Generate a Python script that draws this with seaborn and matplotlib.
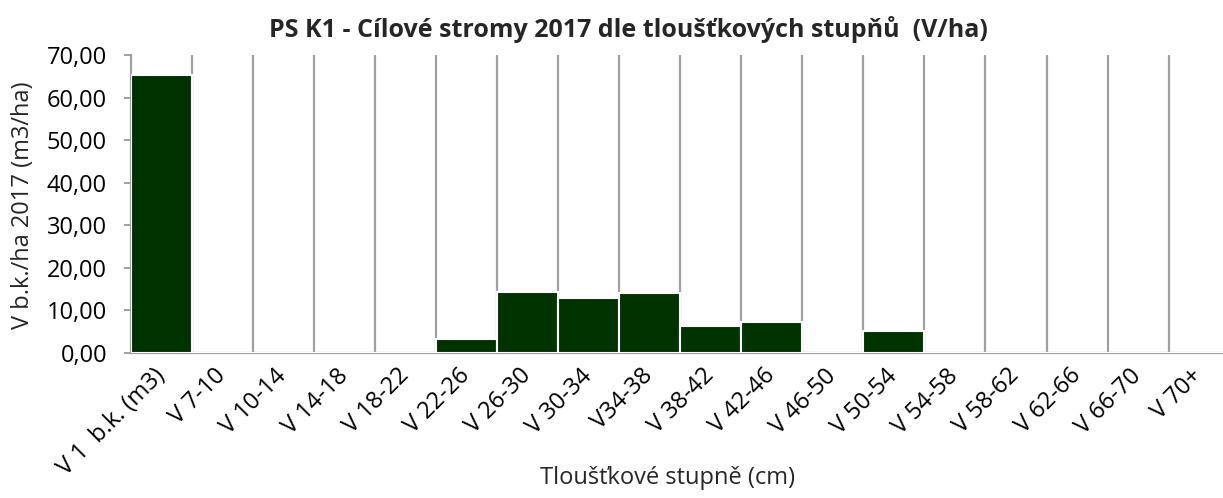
import matplotlib
matplotlib.use("Agg")
import matplotlib.pyplot as plt
import seaborn as sns
import pandas as pd
from matplotlib.ticker import FuncFormatter, FixedLocator

categories = ["V 1  b.k. (m3)", "V 7-10", "V 10-14", "V 14-18", "V 18-22", "V 22-26",
              "V 26-30", "V 30-34", "V34-38", "V 38-42", "V 42-46", "V 46-50",
              "V 50-54", "V 54-58", "V 58-62", "V 62-66", "V 66-70", "V 70+"]
values = [65.3, 0, 0, 0, 0, 3.2, 14.3, 12.9, 14.2, 6.3, 7.3, 0, 5.2, 0, 0, 0, 0, 0]

title = "PS K1 - Cílové stromy 2017 dle tloušťkových stupňů  (V/ha)"
xlabel = "Tloušťkové stupně (cm)"
ylabel = "V b.k./ha 2017 (m3/ha)"

sns.set_theme(style="white")
plt.rcParams["font.family"] = ["Open Sans", "DejaVu Sans"]

frame = pd.DataFrame({"stupen": categories, "objem": values})

fig = plt.figure(figsize=(12.23, 4.98), dpi=100)
ax = fig.add_axes([0.1068, 0.2912, 0.8987, 0.5984])

sns.barplot(data=frame, x="stupen", y="objem", order=categories, color="#003300",
            width=1.0, edgecolor="white", linewidth=1.5, saturation=1, ax=ax, zorder=3)

ax.set_xlim(-0.5, len(categories) - 0.5)
ax.set_ylim(0, 70)
ax.set_yticks(range(0, 71, 10))
ax.yaxis.set_major_formatter(FuncFormatter(lambda v, _: f"{v:.2f}".replace(".", ",")))

# vertical gridlines at the category boundaries
ax.xaxis.set_minor_locator(FixedLocator([i + 0.5 for i in range(len(categories) - 1)]))
ax.grid(True, which="minor", axis="x", color="#a0a0a0", linewidth=1.6, zorder=0)
ax.grid(False, which="major")
ax.set_axisbelow(True)

for side in ["top", "right"]:
    ax.spines[side].set_visible(False)
for side in ["left", "bottom"]:
    ax.spines[side].set_color("#a0a0a0")
    ax.spines[side].set_linewidth(1.6)

ax.tick_params(axis="y", which="major", left=True, length=5, width=1.4, color="#a0a0a0",
               labelsize=17, labelcolor="black", pad=12)
ax.tick_params(axis="x", which="both", bottom=False, labelsize=17, labelcolor="black", pad=8)
plt.setp(ax.get_xticklabels(), rotation=45, ha="right", rotation_mode="anchor", va="center")

ax.set_xlabel("")
ax.set_ylabel("")
fig.text(0.019, 0.588, ylabel, rotation=90, ha="center", va="center", fontsize=17)
fig.text(0.546, 0.04, xlabel, ha="center", va="center", fontsize=17)
fig.text(0.5135, 0.94, title, ha="center", va="center", fontsize=18, fontweight="bold")

fig.savefig("out.png", dpi=100)
